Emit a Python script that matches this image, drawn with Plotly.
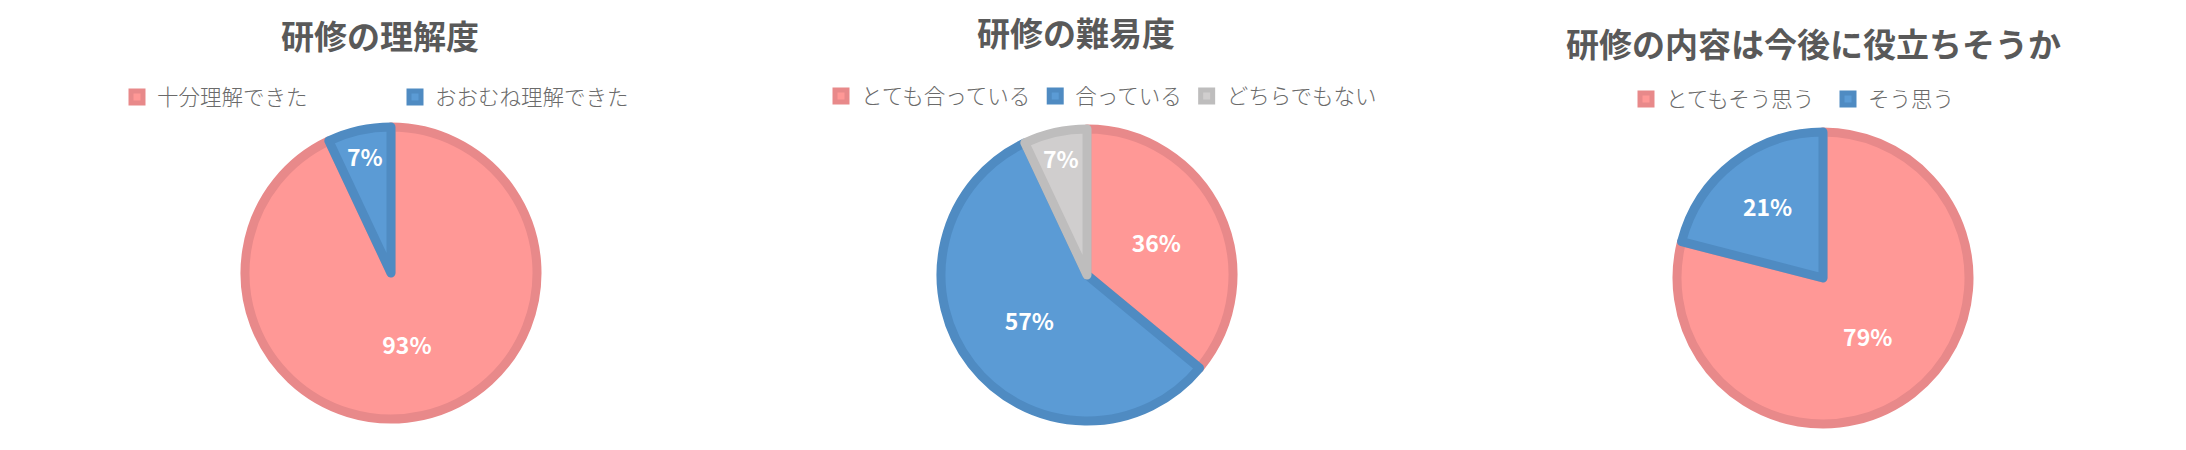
"""
研修アンケート結果の円グラフ（3つ並び）
"""

import plotly.graph_objects as go

W, H = 2186, 450
PAGE_MARGIN = 8  # ブラウザの body の余白
FIG_W, FIG_H = W - 2 * PAGE_MARGIN, H - 2 * PAGE_MARGIN

titles = ['研修の理解度', '研修の難易度', '研修の内容は今後に役立ちそうか']

# 研修の理解度
labels_1 = ['十分理解できた', 'おおむね理解できた']
values_1 = [93, 7]

# 研修の難易度
labels_2 = ['とても合っている', '合っている', 'どちらでもない']
values_2 = [36, 57, 7]

# 研修の内容は今後に役立ちそうか
labels_3 = ['とてもそう思う', 'そう思う']
values_3 = [79, 21]

FONT = 'Noto Sans CJK JP'
TEXT_COLOR = '#595959'

fill_colors = {'pink': '#FF9896', 'blue': '#5B9BD5', 'gray': '#D0CECE'}
line_colors = {'pink': '#E8898A', 'blue': '#4F8BC2', 'gray': '#BEBDBD'}


def px_x(v):
    # 画面のピクセル（左から）を paper 座標に変換
    return (v - PAGE_MARGIN) / FIG_W


def px_y(v):
    # 画面のピクセル（上から）を paper 座標に変換
    return 1 - (v - PAGE_MARGIN) / FIG_H


def make_pie(labels, values, keys, cx, cy, r, legend_name):
    return go.Pie(
        labels=labels,
        values=values,
        sort=False,
        direction='clockwise',
        rotation=0,
        domain=dict(x=[px_x(cx - r), px_x(cx + r)], y=[px_y(cy + r), px_y(cy - r)]),
        marker=dict(
            colors=[fill_colors[k] for k in keys],
            line=dict(color=[line_colors[k] for k in keys], width=9)
        ),
        texttemplate='%{percent:.0%}',
        textposition='inside',
        insidetextorientation='horizontal',
        textfont=dict(family=FONT, size=23, color='white', weight='bold'),
        hoverinfo='label+percent',
        legend=legend_name
    )


fig = go.Figure()
fig.add_trace(make_pie(labels_1, values_1, ['pink', 'blue'], 391, 273, 146, 'legend'))
fig.add_trace(make_pie(labels_2, values_2, ['pink', 'blue', 'gray'], 1087, 275, 146, 'legend2'))
fig.add_trace(make_pie(labels_3, values_3, ['pink', 'blue'], 1823, 278, 146, 'legend3'))

# タイトル
title_pos = [(380, 35), (1076, 32), (1813, 43)]
for text, (tx, ty) in zip(titles, title_pos):
    fig.add_annotation(
        text=text, x=px_x(tx), y=px_y(ty), xref='paper', yref='paper',
        xanchor='center', yanchor='middle', showarrow=False,
        font=dict(family=FONT, size=33, color=TEXT_COLOR, weight='bold')
    )

legend_font = dict(family=FONT, size=21.5, color='#6a6a6a', weight=300)
legend_base = dict(orientation='h', xanchor='left', yanchor='middle',
                   font=legend_font, itemwidth=30, bgcolor='rgba(0,0,0,0)',
                   traceorder='normal', itemclick=False, itemdoubleclick=False)

fig.update_layout(
    width=FIG_W,
    height=FIG_H,
    margin=dict(l=0, r=0, t=0, b=0),
    paper_bgcolor='white',
    plot_bgcolor='white',
    showlegend=True,
    uniformtext=dict(minsize=23, mode='show'),
    legend=dict(legend_base, x=px_x(117), y=px_y(97), entrywidth=233, entrywidthmode='pixels'),
    legend2=dict(legend_base, x=px_x(821), y=px_y(96)),
    legend3=dict(legend_base, x=px_x(1626), y=px_y(99), entrywidth=157, entrywidthmode='pixels'),
)

fig.write_html('out.html')
